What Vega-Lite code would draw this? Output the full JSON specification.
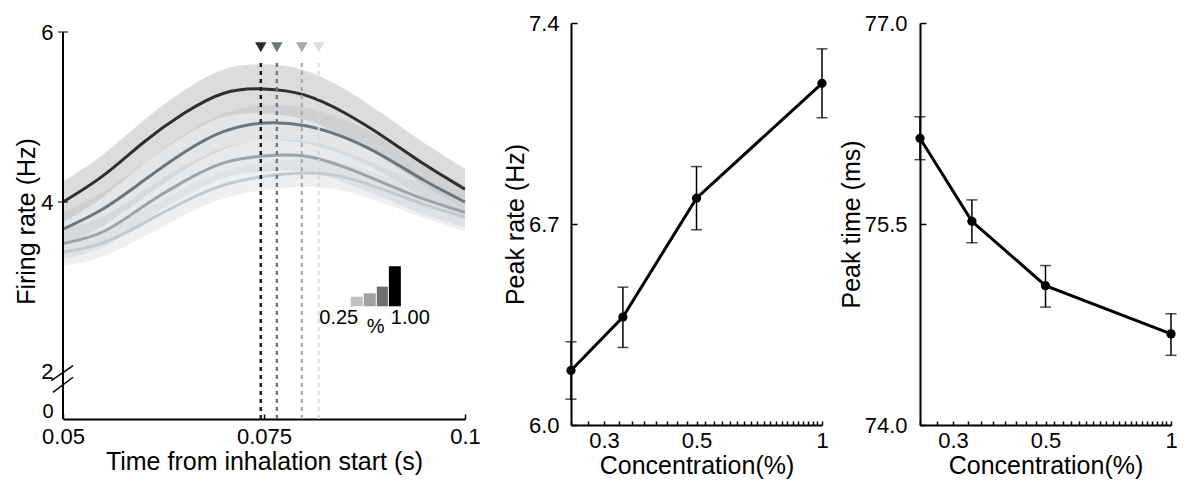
{
  "$schema": "https://vega.github.io/schema/vega-lite/v6.json",
  "padding": {"left": 14, "top": 12, "right": 5, "bottom": 5},
  "spacing": 22,
  "config": {
    "view": {"stroke": null},
    "font": "Liberation Sans",
    "axis": {
      "grid": false,
      "domainColor": "black",
      "domainWidth": 2,
      "tickColor": "black",
      "tickWidth": 1.5,
      "labelFontSize": 22,
      "labelColor": "black",
      "titleFontSize": 25,
      "titleFontWeight": "normal",
      "titleColor": "black",
      "labelFlush": false,
      "labelOverlap": false
    }
  },
  "datasets": {
    "curves": [
      {"conc": "1.00", "t": 0.050, "mean": 4.00, "lo": 3.76, "hi": 4.24},
      {"conc": "1.00", "t": 0.055, "mean": 4.31, "lo": 4.06, "hi": 4.56},
      {"conc": "1.00", "t": 0.060, "mean": 4.70, "lo": 4.44, "hi": 4.96},
      {"conc": "1.00", "t": 0.065, "mean": 5.04, "lo": 4.77, "hi": 5.31},
      {"conc": "1.00", "t": 0.070, "mean": 5.28, "lo": 5.00, "hi": 5.56},
      {"conc": "1.00", "t": 0.075, "mean": 5.33, "lo": 5.04, "hi": 5.62},
      {"conc": "1.00", "t": 0.080, "mean": 5.26, "lo": 4.97, "hi": 5.55},
      {"conc": "1.00", "t": 0.085, "mean": 5.05, "lo": 4.77, "hi": 5.33},
      {"conc": "1.00", "t": 0.090, "mean": 4.76, "lo": 4.50, "hi": 5.02},
      {"conc": "1.00", "t": 0.095, "mean": 4.44, "lo": 4.19, "hi": 4.69},
      {"conc": "1.00", "t": 0.100, "mean": 4.15, "lo": 3.91, "hi": 4.39},
      {"conc": "0.50", "t": 0.050, "mean": 3.68, "lo": 3.48, "hi": 3.88},
      {"conc": "0.50", "t": 0.055, "mean": 3.92, "lo": 3.72, "hi": 4.12},
      {"conc": "0.50", "t": 0.060, "mean": 4.25, "lo": 4.05, "hi": 4.45},
      {"conc": "0.50", "t": 0.065, "mean": 4.58, "lo": 4.37, "hi": 4.79},
      {"conc": "0.50", "t": 0.070, "mean": 4.83, "lo": 4.62, "hi": 5.04},
      {"conc": "0.50", "t": 0.075, "mean": 4.93, "lo": 4.72, "hi": 5.14},
      {"conc": "0.50", "t": 0.080, "mean": 4.90, "lo": 4.69, "hi": 5.11},
      {"conc": "0.50", "t": 0.085, "mean": 4.76, "lo": 4.55, "hi": 4.97},
      {"conc": "0.50", "t": 0.090, "mean": 4.53, "lo": 4.33, "hi": 4.73},
      {"conc": "0.50", "t": 0.095, "mean": 4.25, "lo": 4.05, "hi": 4.45},
      {"conc": "0.50", "t": 0.100, "mean": 4.00, "lo": 3.80, "hi": 4.20},
      {"conc": "0.33", "t": 0.050, "mean": 3.51, "lo": 3.33, "hi": 3.69},
      {"conc": "0.33", "t": 0.055, "mean": 3.65, "lo": 3.47, "hi": 3.83},
      {"conc": "0.33", "t": 0.060, "mean": 3.95, "lo": 3.77, "hi": 4.13},
      {"conc": "0.33", "t": 0.065, "mean": 4.24, "lo": 4.06, "hi": 4.42},
      {"conc": "0.33", "t": 0.070, "mean": 4.46, "lo": 4.28, "hi": 4.64},
      {"conc": "0.33", "t": 0.075, "mean": 4.54, "lo": 4.36, "hi": 4.72},
      {"conc": "0.33", "t": 0.080, "mean": 4.54, "lo": 4.36, "hi": 4.72},
      {"conc": "0.33", "t": 0.085, "mean": 4.41, "lo": 4.23, "hi": 4.59},
      {"conc": "0.33", "t": 0.090, "mean": 4.22, "lo": 4.04, "hi": 4.40},
      {"conc": "0.33", "t": 0.095, "mean": 4.03, "lo": 3.85, "hi": 4.21},
      {"conc": "0.33", "t": 0.100, "mean": 3.88, "lo": 3.70, "hi": 4.06},
      {"conc": "0.25", "t": 0.050, "mean": 3.41, "lo": 3.25, "hi": 3.57},
      {"conc": "0.25", "t": 0.055, "mean": 3.52, "lo": 3.36, "hi": 3.68},
      {"conc": "0.25", "t": 0.060, "mean": 3.75, "lo": 3.59, "hi": 3.91},
      {"conc": "0.25", "t": 0.065, "mean": 4.00, "lo": 3.84, "hi": 4.16},
      {"conc": "0.25", "t": 0.070, "mean": 4.20, "lo": 4.04, "hi": 4.36},
      {"conc": "0.25", "t": 0.075, "mean": 4.30, "lo": 4.14, "hi": 4.46},
      {"conc": "0.25", "t": 0.080, "mean": 4.34, "lo": 4.18, "hi": 4.50},
      {"conc": "0.25", "t": 0.085, "mean": 4.29, "lo": 4.13, "hi": 4.45},
      {"conc": "0.25", "t": 0.090, "mean": 4.14, "lo": 3.98, "hi": 4.30},
      {"conc": "0.25", "t": 0.095, "mean": 3.97, "lo": 3.81, "hi": 4.13},
      {"conc": "0.25", "t": 0.100, "mean": 3.82, "lo": 3.66, "hi": 3.98}
    ],
    "peaks": [
      {"conc": "1.00", "t": 0.0746},
      {"conc": "0.50", "t": 0.0766},
      {"conc": "0.33", "t": 0.0797},
      {"conc": "0.25", "t": 0.0818}
    ],
    "legendbars": [
      {"conc": "0.25", "x1": 0.08579, "x2": 0.08728, "top": 2.886},
      {"conc": "0.33", "x1": 0.08741, "x2": 0.08890, "top": 2.926},
      {"conc": "0.50", "x1": 0.08903, "x2": 0.09040, "top": 3.004},
      {"conc": "1.00", "x1": 0.09053, "x2": 0.09202, "top": 3.244}
    ],
    "legendtext": [
      {"label": "0.25", "t": 0.0843, "v": 2.63},
      {"label": "%", "t": 0.0889, "v": 2.53},
      {"label": "1.00", "t": 0.0932, "v": 2.63}
    ],
    "breaks": [
      {"x1": 0.04854, "y1": 1.898, "x2": 0.05125, "y2": 2.074},
      {"x1": 0.04875, "y1": 1.761, "x2": 0.05125, "y2": 1.938}
    ],
    "rate": [
      {"conc": 0.25, "val": 6.19, "lo": 6.09, "hi": 6.29},
      {"conc": 0.333, "val": 6.376, "lo": 6.27, "hi": 6.48},
      {"conc": 0.5, "val": 6.79, "lo": 6.68, "hi": 6.90},
      {"conc": 1.0, "val": 7.19, "lo": 7.07, "hi": 7.31}
    ],
    "time": [
      {"conc": 0.25, "val": 76.14, "lo": 75.98, "hi": 76.30},
      {"conc": 0.333, "val": 75.52, "lo": 75.36, "hi": 75.68},
      {"conc": 0.5, "val": 75.04, "lo": 74.88, "hi": 75.19},
      {"conc": 1.0, "val": 74.68, "lo": 74.52, "hi": 74.83}
    ]
  },
  "hconcat": [
    {
      "width": 402,
      "height": 396,
      "resolve": {"scale": {"color": "independent", "fill": "independent", "stroke": "independent", "strokeWidth": "independent"}},
      "layer": [
        {
          "data": {"name": "curves"},
          "mark": {"type": "area", "interpolate": "natural", "fillOpacity": 0.4},
          "encoding": {
            "x": {"field": "t", "type": "quantitative", "scale": {"domain": [0.05, 0.1]},
              "axis": {"title": "Time from inhalation start (s)", "values": [0.05, 0.075, 0.1], "labelExpr": "datum.value == 0.05 ? '0.05' : datum.value == 0.075 ? '0.075' : '0.1'", "tickSize": -5, "labelPadding": 12, "titlePadding": 2}},
            "y": {"field": "lo", "type": "quantitative", "scale": {"domain": [1.447, 6.106], "nice": false, "zero": false},
              "axis": {"title": "Firing rate (Hz)", "domain": false, "ticks": false, "values": [1.53, 2, 4, 6], "labelExpr": "datum.value < 1.6 ? '0' : datum.value == 2 ? '2' : datum.value == 4 ? '4' : '6'", "labelFontSize": {"condition": {"test": "datum.value < 1.6", "value": 20}, "value": 22}, "labelPadding": 10, "titlePadding": 1}},
            "y2": {"field": "hi"},
            "fill": {"field": "conc", "type": "nominal", "scale": {"domain": ["1.00", "0.50", "0.33", "0.25"], "range": ["#a8a8a8", "#b8bec4", "#c4c9ce", "#d4d8dc"]}, "legend": null}
          }
        },
        {
          "data": {"values": [{"v": 4}, {"v": 6}]},
          "mark": {"type": "tick", "orient": "horizontal", "color": "black", "size": 10, "thickness": 1.5},
          "encoding": {
            "x": {"datum": 0.05},
            "y": {"field": "v", "type": "quantitative"}
          }
        },
        {
          "data": {"name": "curves"},
          "mark": {"type": "line", "interpolate": "natural", "strokeWidth": 3},
          "encoding": {
            "x": {"field": "t", "type": "quantitative"},
            "y": {"field": "mean", "type": "quantitative"},
            "stroke": {"field": "conc", "type": "nominal", "scale": {"domain": ["1.00", "0.50", "0.33", "0.25"], "range": ["#2e2e2e", "#6b7580", "#9ba3ad", "#c3c9d0"]}, "legend": null}
          }
        },
        {
          "data": {"name": "peaks"},
          "mark": {"type": "rule", "strokeDash": [4, 4]},
          "encoding": {
            "x": {"field": "t", "type": "quantitative"},
            "y": {"datum": 1.447},
            "y2": {"datum": 5.66},
            "stroke": {"field": "conc", "type": "nominal", "scale": {"domain": ["1.00", "0.50", "0.33", "0.25"], "range": ["#1e1e1e", "#6b7580", "#a3aab2", "#d5d9de"]}, "legend": null},
            "strokeWidth": {"field": "conc", "type": "nominal", "scale": {"domain": ["1.00", "0.50", "0.33", "0.25"], "range": [2.5, 2, 1.8, 1.8]}, "legend": null}
          }
        },
        {
          "data": {"name": "peaks"},
          "mark": {"type": "point", "shape": "triangle-down", "filled": true, "size": 130, "opacity": 1},
          "encoding": {
            "x": {"field": "t", "type": "quantitative"},
            "y": {"datum": 5.82},
            "color": {"field": "conc", "type": "nominal", "scale": {"domain": ["1.00", "0.50", "0.33", "0.25"], "range": ["#2b2b2b", "#6c7580", "#a2a9b1", "#d9dde2"]}, "legend": null}
          }
        },
        {
          "data": {"name": "legendbars"},
          "mark": {"type": "rect"},
          "encoding": {
            "x": {"field": "x1", "type": "quantitative"},
            "x2": {"field": "x2"},
            "y": {"field": "top", "type": "quantitative"},
            "y2": {"datum": 2.773},
            "fill": {"field": "conc", "type": "nominal", "scale": {"domain": ["0.25", "0.33", "0.50", "1.00"], "range": ["#c0c0c0", "#a0a0a0", "#6e6e6e", "#000000"]}, "legend": null}
          }
        },
        {
          "data": {"name": "legendtext"},
          "mark": {"type": "text", "fontSize": 20, "color": "black"},
          "encoding": {
            "x": {"field": "t", "type": "quantitative"},
            "y": {"field": "v", "type": "quantitative"},
            "text": {"field": "label"}
          }
        },
        {
          "data": {"name": "breaks"},
          "mark": {"type": "rule", "color": "black", "strokeWidth": 1.5},
          "encoding": {
            "x": {"field": "x1", "type": "quantitative"},
            "y": {"field": "y1", "type": "quantitative"},
            "x2": {"field": "x2"},
            "y2": {"field": "y2"}
          }
        },
        {
          "data": {"values": [{"t": 0.05}]},
          "mark": {"type": "rule", "color": "black", "strokeWidth": 2},
          "encoding": {
            "x": {"field": "t", "type": "quantitative"},
            "y": {"datum": 1.447},
            "y2": {"datum": 6}
          }
        }
      ]
    },
    {
      "spacing": 10,
      "hconcat": [
        {
          "width": 251,
          "height": 402,
          "data": {"name": "rate"},
          "encoding": {
            "x": {"field": "conc", "type": "quantitative", "scale": {"type": "log", "domain": [0.25, 1]},
              "axis": {"title": "Concentration(%)", "values": [0.25, 0.275, 0.3, 0.325, 0.35, 0.375, 0.4, 0.425, 0.45, 0.475, 0.5, 0.525, 0.55, 0.575, 0.6, 0.625, 0.65, 0.675, 0.7, 0.725, 0.75, 0.775, 0.8, 0.825, 0.85, 0.875, 0.9, 0.925, 0.95, 0.975, 1], "labelExpr": "datum.value == 0.3 ? '0.3' : datum.value == 0.5 ? '0.5' : datum.value == 1 ? '1' : ''", "tickSize": -4, "labelPadding": 9, "titlePadding": 2}}
          },
          "layer": [
            {
              "mark": {"type": "rule", "color": "black", "strokeWidth": 1.5},
              "encoding": {
                "y": {"field": "lo", "type": "quantitative", "title": "Peak rate (Hz)", "scale": {"domain": [6.0, 7.4], "nice": false, "zero": false},
                  "axis": {"values": [6.0, 6.7, 7.4], "format": ".1f", "tickSize": -6, "labelPadding": 18, "titlePadding": 0}},
                "y2": {"field": "hi"}
              }
            },
            {
              "mark": {"type": "tick", "orient": "horizontal", "color": "black", "size": 11, "thickness": 1.5},
              "encoding": {"y": {"field": "lo", "type": "quantitative", "title": "Peak rate (Hz)"}}
            },
            {
              "mark": {"type": "tick", "orient": "horizontal", "color": "black", "size": 11, "thickness": 1.5},
              "encoding": {"y": {"field": "hi", "type": "quantitative", "title": "Peak rate (Hz)"}}
            },
            {
              "mark": {"type": "line", "color": "black", "strokeWidth": 3},
              "encoding": {"y": {"field": "val", "type": "quantitative", "title": "Peak rate (Hz)"}}
            },
            {
              "mark": {"type": "point", "filled": true, "color": "black", "size": 85, "opacity": 1},
              "encoding": {"y": {"field": "val", "type": "quantitative", "title": "Peak rate (Hz)"}}
            }
          ]
        },
        {
          "width": 251,
          "height": 402,
          "data": {"name": "time"},
          "encoding": {
            "x": {"field": "conc", "type": "quantitative", "scale": {"type": "log", "domain": [0.25, 1]},
              "axis": {"title": "Concentration(%)", "values": [0.25, 0.275, 0.3, 0.325, 0.35, 0.375, 0.4, 0.425, 0.45, 0.475, 0.5, 0.525, 0.55, 0.575, 0.6, 0.625, 0.65, 0.675, 0.7, 0.725, 0.75, 0.775, 0.8, 0.825, 0.85, 0.875, 0.9, 0.925, 0.95, 0.975, 1], "labelExpr": "datum.value == 0.3 ? '0.3' : datum.value == 0.5 ? '0.5' : datum.value == 1 ? '1' : ''", "tickSize": -4, "labelPadding": 9, "titlePadding": 2}}
          },
          "layer": [
            {
              "mark": {"type": "rule", "color": "black", "strokeWidth": 1.5},
              "encoding": {
                "y": {"field": "lo", "type": "quantitative", "title": "Peak time (ms)", "scale": {"domain": [74.0, 77.0], "nice": false, "zero": false},
                  "axis": {"values": [74.0, 75.5, 77.0], "format": ".1f", "tickSize": -6, "labelPadding": 19, "titlePadding": 0}},
                "y2": {"field": "hi"}
              }
            },
            {
              "mark": {"type": "tick", "orient": "horizontal", "color": "black", "size": 11, "thickness": 1.5},
              "encoding": {"y": {"field": "lo", "type": "quantitative", "title": "Peak time (ms)"}}
            },
            {
              "mark": {"type": "tick", "orient": "horizontal", "color": "black", "size": 11, "thickness": 1.5},
              "encoding": {"y": {"field": "hi", "type": "quantitative", "title": "Peak time (ms)"}}
            },
            {
              "mark": {"type": "line", "color": "black", "strokeWidth": 3},
              "encoding": {"y": {"field": "val", "type": "quantitative", "title": "Peak time (ms)"}}
            },
            {
              "mark": {"type": "point", "filled": true, "color": "black", "size": 85, "opacity": 1},
              "encoding": {"y": {"field": "val", "type": "quantitative", "title": "Peak time (ms)"}}
            }
          ]
        }
      ]
    }
  ]
}
